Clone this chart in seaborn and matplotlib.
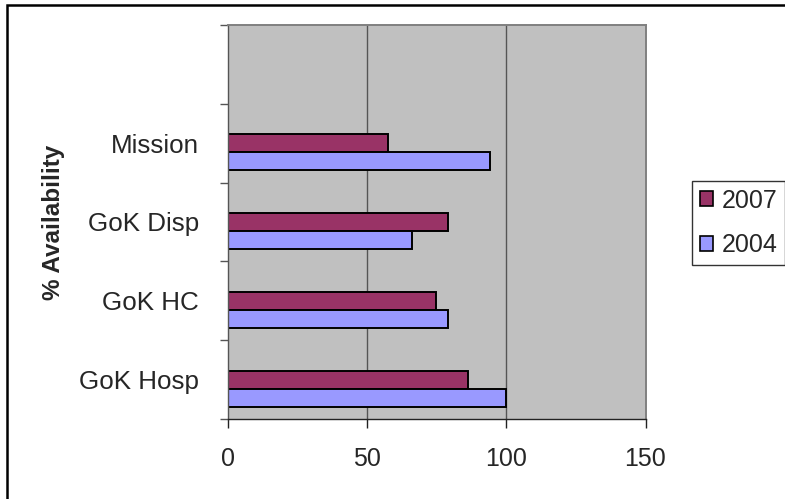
import numpy as np
import pandas as pd
import matplotlib
matplotlib.use("Agg")
import matplotlib.pyplot as plt
import matplotlib.patches as mpatches
import seaborn as sns

# datos
categories = ["Mission", "GoK Disp", "GoK HC", "GoK Hosp"]
avail_2007 = [57.5, 79, 74.7, 86.2]
avail_2004 = [94.3, 66, 79, 100]
years = ["2007", "2004"]
x_ticks = [0, 50, 100, 150]

colors = {"pad": "#FFFFFF", "2007": "#993366", "2004": "#9999FF"}

df = pd.DataFrame({
    "Category": categories * 2,
    "Availability": avail_2007 + avail_2004,
    "Year": ["2007"] * len(categories) + ["2004"] * len(categories),
})

sns.set_style("white")
plt.rcParams["font.family"] = ["Liberation Sans", "DejaVu Sans"]

fig = plt.figure(figsize=(7.85, 4.99), dpi=100)
ax = fig.add_axes([228 / 785, 1 - 419 / 499, 417.5 / 785, 394 / 499])
ax.set_facecolor("#C0C0C0")

# "pad" level reserves the slot above each pair, like the original layout
sns.barplot(data=df, y="Category", x="Availability", hue="Year",
            hue_order=["pad", "2007", "2004"], order=categories,
            palette=colors, saturation=1, width=0.685, edgecolor="black",
            linewidth=1.4, orient="h", legend=False, ax=ax)

ax.set_xlim(0, 150)
ax.set_ylim(3.5, -1.5)
ax.set_xticks(x_ticks)
ax.set_xticklabels([str(t) for t in x_ticks])
for xv in [50, 100]:
    ax.axvline(xv, color="#555555", lw=1.0, zorder=0.5)
ax.set_axisbelow(True)

ax.set_yticks(range(len(categories)))
ax.set_yticklabels(categories)
ax.set_yticks(np.arange(-1.5, 4.0, 1.0), minor=True)
ax.tick_params(axis="y", which="major", length=0, pad=21, labelsize=18.7)
ax.tick_params(axis="y", which="minor", length=6, width=1, color="#555555", direction="out", left=True)
ax.tick_params(axis="x", which="major", length=6.5, width=1, color="#222222", direction="out",
               pad=14, labelsize=18, bottom=True)

ax.set_xlabel("")
ax.set_ylabel("% Availability", fontsize=17.5, fontweight="bold")
ax.yaxis.set_label_coords(-0.39, 0.5)

for side in ["top", "right"]:
    ax.spines[side].set_color("#808080")
    ax.spines[side].set_linewidth(1.4)
ax.spines["left"].set_color("#555555")
ax.spines["bottom"].set_color("#222222")
for side in ["left", "bottom"]:
    ax.spines[side].set_linewidth(1.0)

handles = [mpatches.Patch(facecolor=colors[y], edgecolor="black", linewidth=1.2, label=y) for y in years]
fig.legend(handles=handles, loc="upper left", bbox_to_anchor=(692 / 785, 1 - 181 / 499),
           frameon=True, fancybox=False, edgecolor="black", fontsize=18,
           handlelength=0.55, handleheight=0.55, handletextpad=0.35,
           labelspacing=0.82, borderpad=0.3, borderaxespad=0)

# marco exterior del grafico
fig.patches.append(mpatches.Rectangle((7 / 785, -0.1), 1.2, 1 - 5.5 / 499 + 0.1,
                                      transform=fig.transFigure, fill=False,
                                      edgecolor="black", linewidth=1.8))

fig.savefig("out.png", dpi=100)
